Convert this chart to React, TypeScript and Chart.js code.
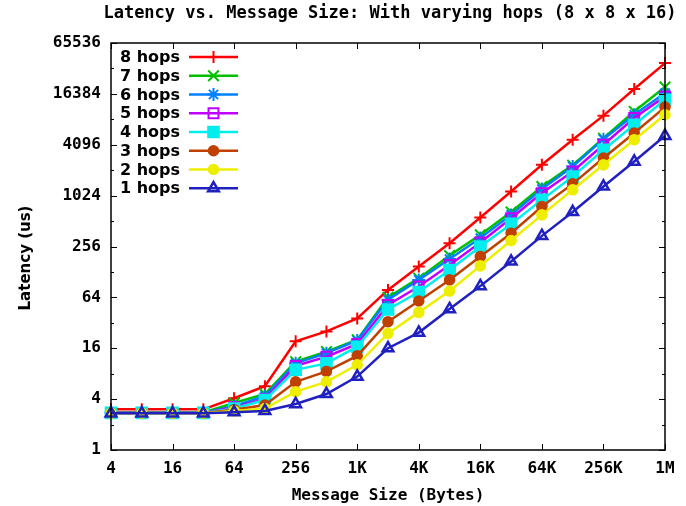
import React, { useEffect, useRef } from "react";
import { Chart, registerables } from "chart.js";
import { drawPoint } from "chart.js/helpers";

Chart.register(...registerables);

// ---- data ----
const sizes = [4, 8, 16, 32, 64, 128, 256, 512, 1024, 2048, 4096, 8192, 16384, 32768, 65536, 131072, 262144, 524288, 1048576];

const hops8 = [3.03, 3.03, 3.03, 3.03, 4.1, 5.7, 19.3, 25.3, 36, 78.5, 148, 280, 565, 1145, 2370, 4700, 9050, 18700, 37900];
const hops7 = [2.78, 2.78, 2.78, 2.78, 3.6, 4.6, 11.1, 14.6, 20.2, 64, 108, 200, 352, 655, 1313, 2350, 4900, 10150, 19750];
const hops6 = [2.76, 2.76, 2.76, 2.76, 3.3, 4.35, 10.6, 14.0, 19.8, 60, 103, 182, 322, 606, 1224, 2267, 4770, 9280, 16750];
const hops5 = [2.75, 2.75, 2.75, 2.75, 3.2, 4.0, 9.9, 12.7, 18, 52, 86, 155, 286, 554, 1097, 1975, 4096, 8480, 15300];
const hops4 = [2.75, 2.75, 2.75, 2.75, 3.1, 3.9, 8.9, 10.6, 16.7, 46, 74, 135, 256, 474, 912, 1722, 3565, 7070, 13950];
const hops3 = [2.74, 2.74, 2.74, 2.74, 3.0, 3.4, 6.4, 8.5, 13, 33, 58, 103, 195, 368, 760, 1410, 2850, 5640, 11430];
const hops2 = [2.73, 2.73, 2.73, 2.73, 2.9, 3.1, 4.9, 6.4, 10.2, 24, 42.5, 76, 151, 301, 606, 1200, 2370, 4700, 9280];
const hops1 = [2.72, 2.72, 2.72, 2.72, 2.8, 2.9, 3.5, 4.6, 7.4, 16, 24.5, 46.5, 87, 170, 342, 655, 1313, 2593, 5230];

const seriesNames = ["8 hops", "7 hops", "6 hops", "5 hops", "4 hops", "3 hops", "2 hops", "1 hops"];
const seriesValues = [hops8, hops7, hops6, hops5, hops4, hops3, hops2, hops1];

const xTickValues = [4, 16, 64, 256, 1024, 4096, 16384, 65536, 262144, 1048576];
const xTickLabels = ["4", "16", "64", "256", "1K", "4K", "16K", "64K", "256K", "1M"];
const yTickValues = [1, 4, 16, 64, 256, 1024, 4096, 16384, 65536];
const yTickLabels = ["1", "4", "16", "64", "256", "1024", "4096", "16384", "65536"];
const yMinorValues = [2, 8, 32, 128, 512, 2048, 8192, 32768];

const titleText = "Latency vs. Message Size: With varying hops (8 x 8 x 16)";
const xTitleText = "Message Size (Bytes)";
const yTitleText = "Latency (us)";

// ---- styles ----
const colors = ["#ff0000", "#00c000", "#0080ff", "#c000ff", "#00eeee", "#c04000", "#eeee00", "#2020c0"];
const markers = ["cross", "crossRot", "star", "rect", "rect", "circle", "circle", "triangle"];
const markerRadius = [6, 7.5, 6.5, 7, 7.5, 4.8, 4.8, 6.2];
const markerBorder = [2, 2, 2, 2, 2, 2, 2, 2.5];
const markerFilled = [true, true, true, false, true, true, true, false];

const MONO = '"DejaVu Sans Mono", monospace';
const SANS = '"DejaVu Sans", sans-serif';

const gnuplotPlugin = {
  id: "gnuplotDecor",
  afterDraw(chart: any) {
    const { ctx, chartArea: a, scales } = chart;
    const xs = scales.x;
    const ys = scales.y;
    ctx.save();

    // tick marks (inward, mirrored)
    ctx.strokeStyle = "#000";
    ctx.lineWidth = 1;
    ctx.beginPath();
    for (const v of xTickValues) {
      const px = Math.round(xs.getPixelForValue(v)) + 0.5;
      ctx.moveTo(px, a.bottom);
      ctx.lineTo(px, a.bottom - 6);
      ctx.moveTo(px, a.top);
      ctx.lineTo(px, a.top + 6);
    }
    for (const v of yTickValues) {
      const py = Math.round(ys.getPixelForValue(v)) + 0.5;
      ctx.moveTo(a.left, py);
      ctx.lineTo(a.left + 6, py);
      ctx.moveTo(a.right, py);
      ctx.lineTo(a.right - 6, py);
    }
    for (const v of yMinorValues) {
      const py = Math.round(ys.getPixelForValue(v)) + 0.5;
      ctx.moveTo(a.left, py);
      ctx.lineTo(a.left + 3, py);
      ctx.moveTo(a.right, py);
      ctx.lineTo(a.right - 3, py);
    }
    ctx.stroke();

    // frame
    ctx.lineWidth = 1.5;
    ctx.strokeRect(a.left, a.top, a.right - a.left, a.bottom - a.top);

    // titles
    ctx.fillStyle = "#000";
    ctx.textAlign = "center";
    ctx.textBaseline = "middle";
    ctx.font = `bold 17px ${MONO}`;
    const cx = (a.left + a.right) / 2;
    ctx.fillText(titleText, cx + 2, 14);
    ctx.font = `bold 16px ${MONO}`;
    ctx.fillText(xTitleText, cx, 496);

    ctx.save();
    ctx.translate(30, 258);
    ctx.rotate(-Math.PI / 2);
    ctx.font = `bold 15px ${SANS}`;
    ctx.textBaseline = "alphabetic";
    ctx.fillText(yTitleText, 0, 0);
    ctx.restore();

    // legend
    chart.data.datasets.forEach((ds: any, k: number) => {
      const y = 57 + 18.75 * k;
      ctx.font = `bold 16px ${SANS}`;
      ctx.textAlign = "left";
      ctx.textBaseline = "middle";
      ctx.fillStyle = "#000";
      ctx.fillText(ds.label, 120, y + 1);
      ctx.strokeStyle = ds.borderColor;
      ctx.lineWidth = ds.borderWidth;
      ctx.beginPath();
      ctx.moveTo(189, y);
      ctx.lineTo(238, y);
      ctx.stroke();
      ctx.fillStyle = ds.pointBackgroundColor;
      ctx.strokeStyle = ds.pointBorderColor;
      ctx.lineWidth = ds.pointBorderWidth;
      drawPoint(ctx, { pointStyle: ds.pointStyle, radius: ds.pointRadius, rotation: 0, borderWidth: ds.pointBorderWidth }, 213.5, y);
    });

    ctx.restore();
  },
};

export default function App() {
  const ref = useRef<HTMLCanvasElement>(null);

  useEffect(() => {
    const datasets = seriesNames.map((name, k) => ({
      label: name,
      data: sizes.map((s, i) => ({ x: s, y: seriesValues[k][i] })),
      borderColor: colors[k],
      backgroundColor: colors[k],
      borderWidth: 2.5,
      pointStyle: markers[k],
      pointRadius: markerRadius[k],
      pointBorderWidth: markerBorder[k],
      pointBorderColor: colors[k],
      pointBackgroundColor: markerFilled[k] ? colors[k] : "rgba(0,0,0,0)",
      tension: 0,
      clip: false as any,
      order: 8 - k,
    }));

    const chart = new Chart(ref.current as HTMLCanvasElement, {
      type: "line",
      data: { datasets },
      plugins: [gnuplotPlugin],
      options: {
        responsive: false,
        animation: false,
        devicePixelRatio: 1,
        layout: { padding: { top: 43, right: 21, left: 0, bottom: 0 } },
        plugins: {
          legend: { display: false },
          title: { display: false },
          tooltip: { enabled: false },
        },
        scales: {
          x: {
            type: "logarithmic",
            min: 4,
            max: 1048576,
            grid: { display: false, drawTicks: false },
            border: { display: false },
            afterBuildTicks: (axis: any) => {
              axis.ticks = xTickValues.map((v) => ({ value: v }));
            },
            afterFit: (axis: any) => {
              axis.height = 56;
            },
            ticks: {
              autoSkip: false,
              maxRotation: 0,
              minRotation: 0,
              padding: 9,
              color: "#000",
              font: { family: MONO, size: 16, weight: "bold" },
              callback: (_v: any, i: number) => xTickLabels[i],
            },
          },
          y: {
            type: "logarithmic",
            min: 1,
            max: 65536,
            grid: { display: false, drawTicks: false },
            border: { display: false },
            afterBuildTicks: (axis: any) => {
              axis.ticks = yTickValues.map((v) => ({ value: v }));
            },
            afterFit: (axis: any) => {
              axis.width = 111;
            },
            ticks: {
              autoSkip: false,
              padding: 10,
              color: "#000",
              font: { family: MONO, size: 16, weight: "bold" },
              callback: (_v: any, i: number) => yTickLabels[i],
            },
          },
        },
      } as any,
    });
    return () => chart.destroy();
  }, []);

  return (
    <div style={{ position: "fixed", left: 0, top: 0, width: 686, height: 506, background: "#fff" }}>
      <canvas ref={ref} width={686} height={506} style={{ display: "block", width: 686, height: 506 }} />
    </div>
  );
}
